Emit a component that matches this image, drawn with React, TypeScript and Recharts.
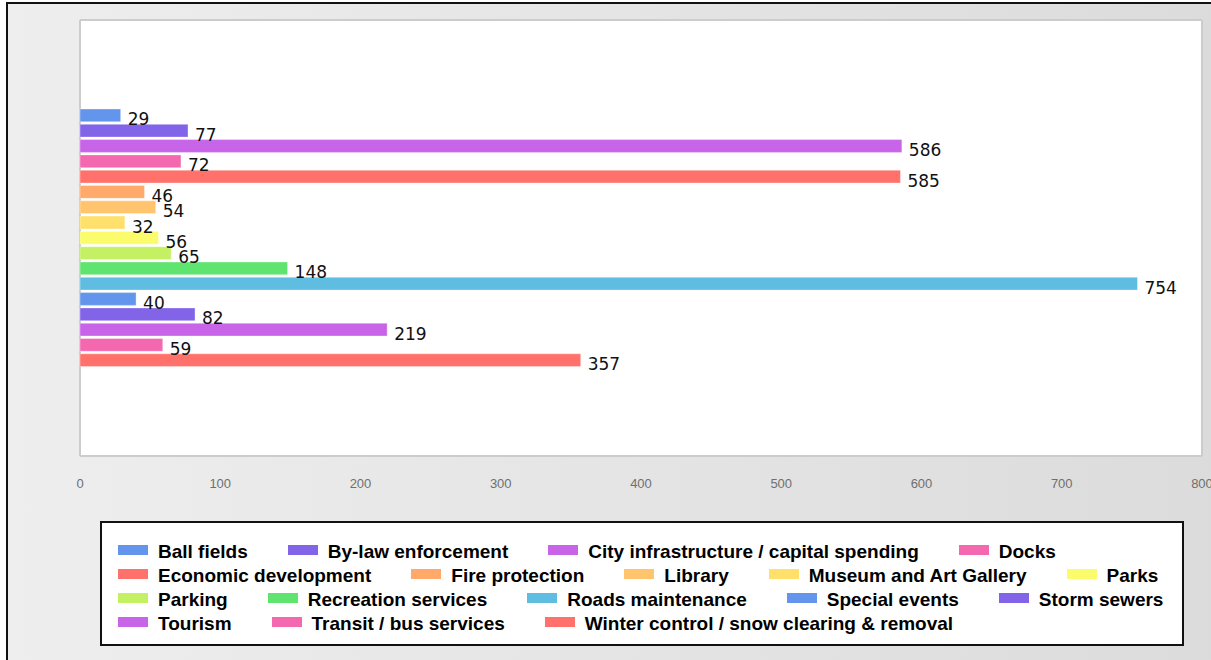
import React from "react";
import { Bar, BarChart, CartesianGrid, LabelList, Legend, XAxis, YAxis } from "recharts";

// Spending by city service: one category, every service drawn as its own bar.

const services = [
  "Ball fields",
  "By-law enforcement",
  "City infrastructure / capital spending",
  "Docks",
  "Economic development",
  "Fire protection",
  "Library",
  "Museum and Art Gallery",
  "Parks",
  "Parking",
  "Recreation services",
  "Roads maintenance",
  "Special events",
  "Storm sewers",
  "Tourism",
  "Transit / bus services",
  "Winter control / snow clearing & removal",
];

const spending = [29, 77, 586, 72, 585, 46, 54, 32, 56, 65, 148, 754, 40, 82, 219, 59, 357];

const colors = [
  "#6495ed",
  "#8264e8",
  "#c864e8",
  "#f468b0",
  "#ff716a",
  "#ffa96b",
  "#ffc46d",
  "#ffe06b",
  "#fafc6b",
  "#c4f064",
  "#60e470",
  "#60bde2",
  "#6495ed",
  "#8264e8",
  "#c864e8",
  "#f468b0",
  "#ff716a",
];

const xTicks = [0, 100, 200, 300, 400, 500, 600, 700, 800];

const row: Record<string, string | number> = { cat: "all" };
services.forEach((_, i) => {
  row["s" + i] = spending[i];
});
const data = [row];

const renderValue = (props: any) => {
  const { x, y, width, height, value } = props;
  return (
    <text
      x={Number(x) + Number(width) + 7}
      y={Number(y) + Number(height) / 2 + 10}
      fontFamily="'DejaVu Sans', Verdana, sans-serif"
      fontSize={17}
      fill="#111"
    >
      {value}
    </text>
  );
};

const renderLegend = () => (
  <div
    style={{
      boxSizing: "border-box",
      width: 1084,
      height: 125,
      border: "2px solid #111",
      background: "#fff",
      padding: "17px 0 0 16px",
      display: "flex",
      flexWrap: "wrap",
      alignContent: "flex-start",
      columnGap: 40,
      fontFamily: "'Liberation Sans', Arial, sans-serif",
      fontWeight: "bold",
      fontSize: 19,
      lineHeight: "24px",
      color: "#000",
    }}
  >
    {services.map((name, i) => (
      <div key={name} style={{ display: "flex", alignItems: "center", height: 24 }}>
        <span
          style={{
            display: "inline-block",
            width: 30,
            height: 10,
            background: colors[i],
            marginRight: 10,
            position: "relative",
            top: -2,
          }}
        />
        <span>{name}</span>
      </div>
    ))}
  </div>
);

export default function App() {
  return (
    <div
      style={{
        position: "fixed",
        left: 0,
        top: 0,
        width: 1211,
        height: 660,
        overflow: "hidden",
        fontFamily: "'Liberation Sans', Arial, sans-serif",
      }}
    >
      <div
        style={{
          position: "absolute",
          left: 6,
          top: 2,
          width: 1240,
          height: 700,
          border: "2px solid #111",
          background: "linear-gradient(to right, #eeeeee, #dbdbdb)",
        }}
      />
      <div style={{ position: "absolute", left: 0, top: 0 }}>
        <BarChart
          width={1211}
          height={660}
          data={data}
          layout="vertical"
          margin={{ top: 20, right: 9, bottom: 174, left: 80 }}
          barSize={12.8}
          barGap={2.5}
        >
          <CartesianGrid
            fill="#ffffff"
            stroke="#cccccc"
            strokeWidth={2}
            horizontalCoordinatesGenerator={({ offset }: any) => [offset.top, offset.top + offset.height]}
            verticalCoordinatesGenerator={({ offset }: any) => [offset.left, offset.left + offset.width]}
          />
          <XAxis
            type="number"
            domain={[0, 800]}
            ticks={xTicks}
            height={30}
            axisLine={false}
            tickLine={false}
            tickSize={0}
            tickMargin={23}
            tick={{ fontSize: 13, fill: "#6f6f6f", fontFamily: "'Liberation Sans', Arial, sans-serif" }}
            interval={0}
          />
          <YAxis type="category" dataKey="cat" hide />
          <Legend
            layout="horizontal"
            verticalAlign="middle"
            align="center"
            content={renderLegend}
            wrapperStyle={{ left: 100, top: 521, width: 1084, height: 125 }}
          />
          {services.map((name, i) => (
            <Bar
              key={name}
              dataKey={"s" + i}
              name={name}
              fill={colors[i]}
              stroke="#ffffff"
              strokeOpacity={0.35}
              strokeWidth={1}
              isAnimationActive={false}
            >
              <LabelList dataKey={"s" + i} content={renderValue} />
            </Bar>
          ))}
        </BarChart>
      </div>
    </div>
  );
}
